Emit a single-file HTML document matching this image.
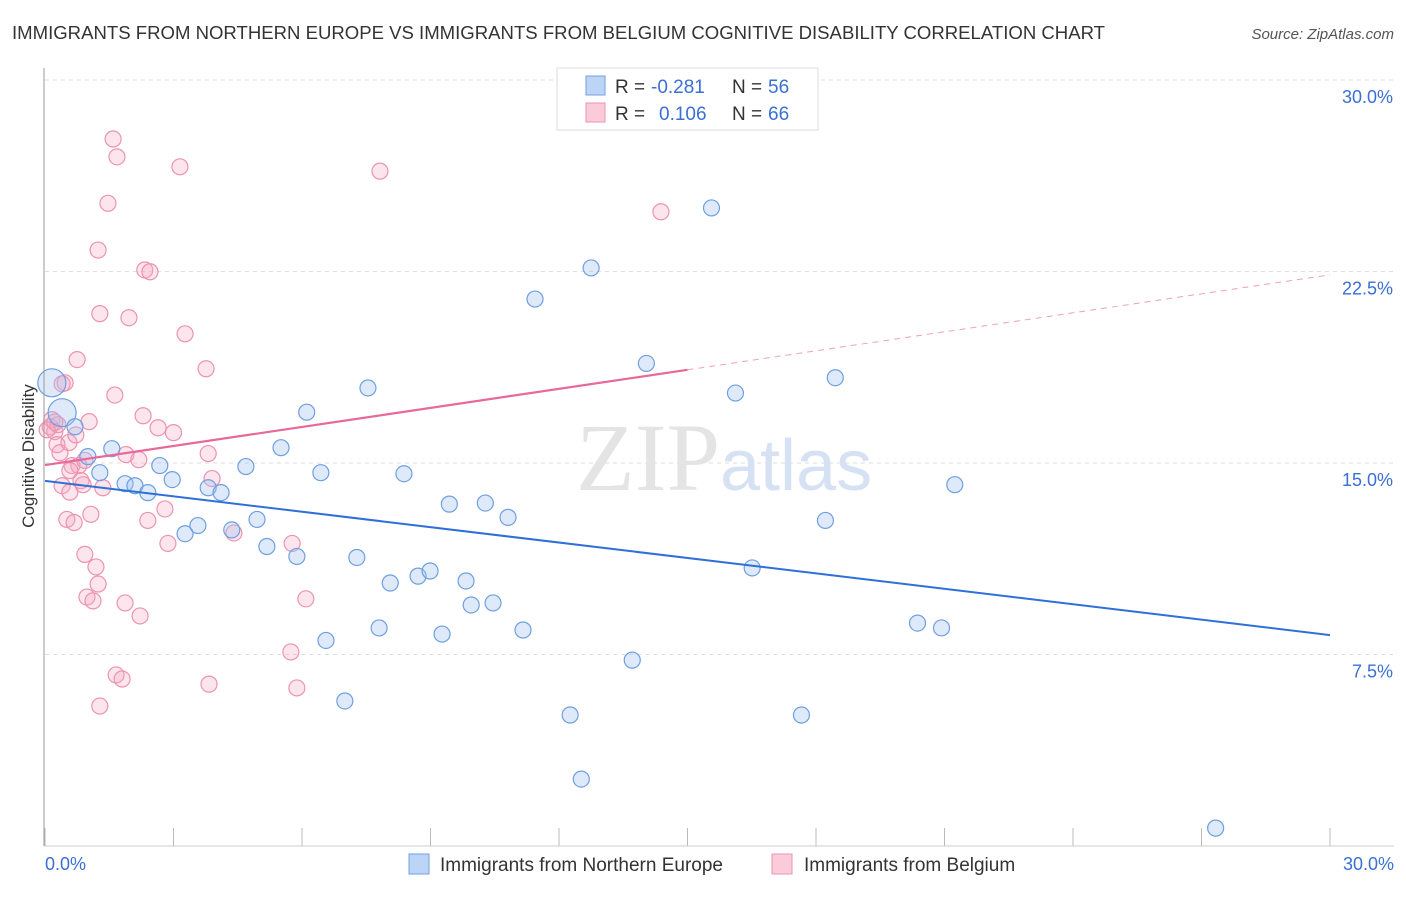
<!DOCTYPE html>
<html><head><meta charset="utf-8"><style>
body{margin:0;background:#fff;font-family:"Liberation Sans",sans-serif}
</style></head><body>
<svg id="chart" width="1406" height="892" xmlns="http://www.w3.org/2000/svg" font-family="Liberation Sans, sans-serif">
<text x="12" y="39" font-size="18" fill="#333" textLength="1093" lengthAdjust="spacingAndGlyphs">IMMIGRANTS FROM NORTHERN EUROPE VS IMMIGRANTS FROM BELGIUM COGNITIVE DISABILITY CORRELATION CHART</text>
<text x="1394" y="39" font-size="15" fill="#555" text-anchor="end" font-style="italic">Source: ZipAtlas.com</text>
<g id="grid"></g>
<text x="720" y="490" font-size="96" text-anchor="end" fill="#e4e4e4" font-family="Liberation Serif, serif">ZIP</text>
<text x="720" y="490" font-size="72" fill="#d6e2f4">atlas</text>
<g id="points"></g>
<g id="trends"></g>
<line x1="44" y1="68" x2="44" y2="846" stroke="#999"/>
<line x1="44" y1="846" x2="1394" y2="846" stroke="#ccc"/>
<text transform="translate(34,456) rotate(-90)" font-size="17" fill="#333" text-anchor="middle">Cognitive Disability</text>
<g>
<rect x="557" y="68" width="261" height="62" fill="#fff" stroke="#ddd"/>
<rect x="586" y="76" width="19" height="19" fill="#bcd4f6" stroke="#6f9fe0"/>
<rect x="586" y="103" width="19" height="19" fill="#fbcbd9" stroke="#ec93b0"/>
<text x="615" y="93" font-size="19" fill="#333">R =</text>
<text x="651" y="93" font-size="19" fill="#3a6fd4">-0.281</text>
<text x="732" y="93" font-size="19" fill="#333">N =</text>
<text x="768" y="93" font-size="19" fill="#3a6fd4">56</text>
<text x="615" y="120" font-size="19" fill="#333">R =</text>
<text x="659" y="120" font-size="19" fill="#3a6fd4">0.106</text>
<text x="732" y="120" font-size="19" fill="#333">N =</text>
<text x="768" y="120" font-size="19" fill="#3a6fd4">66</text>
</g>
<g>
<rect x="409" y="854" width="20" height="20" fill="#bcd4f6" stroke="#6f9fe0"/>
<text x="440" y="871" font-size="19" fill="#333">Immigrants from Northern Europe</text>
<rect x="772" y="854" width="20" height="20" fill="#fbcbd9" stroke="#ec93b0"/>
<text x="804" y="871" font-size="19" fill="#333">Immigrants from Belgium</text>
</g>
<text x="45" y="870" font-size="18" fill="#3a6fd4">0.0%</text>
<text x="1394" y="870" font-size="18" fill="#3a6fd4" text-anchor="end">30.0%</text>
</svg>
<script>
const yTicks=[7.5,15,22.5,30];
const yTickLabels=["7.5%","15.0%","22.5%","30.0%"];
const xTicks=[0,3,6,9,12,15,18,21,24,27,30];
const blueX=[0.16,0.4,0.7,1.0,1.28,1.56,1.87,2.1,2.4,2.68,2.97,3.27,3.57,3.81,4.11,4.36,4.69,4.95,5.18,5.51,5.88,6.11,6.44,6.56,7.0,7.28,7.54,7.8,8.06,8.38,8.71,8.99,9.27,9.44,9.83,9.95,10.28,10.46,10.81,11.16,11.44,12.26,12.52,12.75,13.71,14.04,15.56,16.12,16.51,17.66,18.22,18.45,20.37,20.93,21.24,27.33];
const blueY=[18.14,16.97,16.42,15.25,14.62,15.56,14.19,14.11,13.84,14.9,14.35,12.23,12.55,14.03,13.84,12.38,14.86,12.79,11.73,15.6,11.34,16.99,14.62,8.05,5.68,11.3,17.94,8.54,10.3,14.58,10.57,10.77,8.3,13.39,10.38,9.44,13.43,9.52,12.87,8.46,21.42,5.13,2.62,22.64,7.28,18.9,24.99,17.74,10.89,5.13,12.75,18.34,8.73,8.54,14.15,0.7];
const pinkX=[0.12,0.16,0.23,0.28,0.35,0.4,0.47,0.51,0.56,0.58,0.63,0.68,0.75,0.79,0.84,0.89,0.93,0.98,1.03,1.07,1.12,1.19,1.24,1.24,1.28,1.35,1.47,1.59,1.63,1.68,1.66,1.8,1.89,1.96,2.19,2.22,2.33,2.4,2.45,2.29,2.64,2.8,2.87,3.0,3.15,3.27,3.76,3.81,3.83,3.9,4.41,5.74,5.77,5.88,6.09,7.82,14.38,1.28,1.87,0.4,0.3,0.58,0.93,0.72,0.23,0.05];
const pinkY=[16.42,16.7,16.23,15.72,15.4,14.11,18.14,12.79,15.8,13.86,14.9,12.67,19.05,14.9,14.31,14.15,11.42,9.75,16.62,12.99,9.6,10.93,10.26,23.34,20.85,14.03,25.17,27.69,17.66,26.99,6.7,6.54,15.33,20.69,15.13,9.01,22.56,12.75,22.49,16.85,16.38,13.2,11.85,16.19,26.6,20.06,18.69,15.37,6.34,14.39,12.26,7.6,11.85,6.19,9.68,26.43,24.84,5.48,9.52,18.1,16.5,14.7,15.1,16.1,16.6,16.3];
const bluePointR=[14,14];
const X=v=>45+v/30*1285, Y=v=>846-v/30*766;
const NS="http://www.w3.org/2000/svg";
const grid=document.getElementById('grid');
yTicks.forEach((t,i)=>{
 const l=document.createElementNS(NS,'line');
 
 
 l.setAttribute('x1',45);l.setAttribute('x2',1394);l.setAttribute('y1',Y(t));l.setAttribute('y2',Y(t));
 l.setAttribute('stroke','#ddd');l.setAttribute('stroke-dasharray','4,4');grid.appendChild(l);
 const tx=document.createElementNS(NS,'text');
 
 
 tx.setAttribute('x',1393);tx.setAttribute('y',Y(t)+23);tx.setAttribute('text-anchor','end');
 tx.setAttribute('font-size','18');tx.setAttribute('fill','#3a6fd4');tx.textContent=yTickLabels[i];grid.appendChild(tx);
});
xTicks.forEach(t=>{
 const l=document.createElementNS(NS,'line');
 
 
 l.setAttribute('x1',X(t));l.setAttribute('x2',X(t));l.setAttribute('y1',828);l.setAttribute('y2',846);
 l.setAttribute('stroke','#bbb');grid.appendChild(l);
});
const pts=document.getElementById('points');
function dot(x,y,r,fill,stroke,name){
 const c=document.createElementNS(NS,'circle');
 
 
 c.setAttribute('cx',X(x));c.setAttribute('cy',Y(y));c.setAttribute('r',r);
 c.setAttribute('fill',fill);c.setAttribute('stroke',stroke);c.setAttribute('stroke-width','1.2');
 pts.appendChild(c);
}
pinkX.forEach((x,i)=>dot(x,pinkY[i],8,'rgba(246,170,195,0.3)','#ec93b0','belgium-point'));
blueX.forEach((x,i)=>dot(x,blueY[i],i<2?bluePointR[i]:8,'rgba(160,195,240,0.35)','#6f9fe0','northern-europe-point'));
const tr=document.getElementById('trends');
function line(x1,y1,x2,y2,col,w,dash,name){
 const l=document.createElementNS(NS,'line');
 
 
 l.setAttribute('x1',X(x1));l.setAttribute('y1',Y(y1));l.setAttribute('x2',X(x2));l.setAttribute('y2',Y(y2));
 l.setAttribute('stroke',col);l.setAttribute('stroke-width',w);if(dash)l.setAttribute('stroke-dasharray',dash);
 tr.appendChild(l);
}
line(0,14.3,30,8.26,'#2f6fd8',2,null,'northern-europe-trendline');
line(0,14.92,15.0,18.65,'#e8689a',2.2,null,'belgium-trendline');
line(15.0,18.65,30,22.37,'#eea0bd',1,'6,5','belgium-trendline-extension');
</script>
</body></html>
